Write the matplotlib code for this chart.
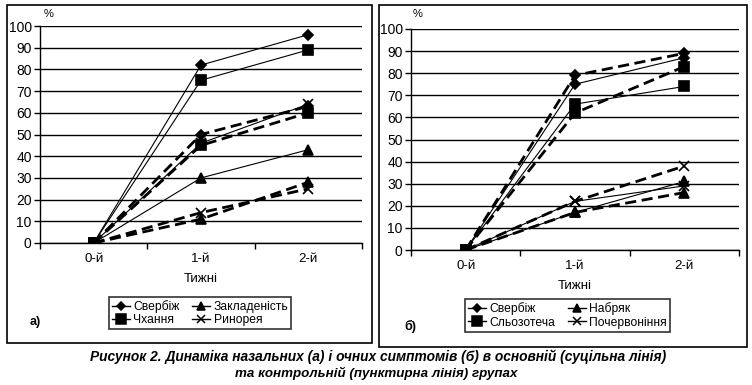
import matplotlib
matplotlib.use("Agg")
import matplotlib.pyplot as plt
from matplotlib.patches import Rectangle
from matplotlib.lines import Line2D

W, H = 752, 385

weeks = ["0-й", "1-й", "2-й"]

# Panel а) nasal symptoms
nasal_names = ["Свербіж", "Чхання", "Закладеність", "Ринорея"]
nasal_main = {
    "Свербіж": [0, 82, 96],
    "Чхання": [0, 75, 89],
    "Закладеність": [0, 30, 43],
    "Ринорея": [0, 46, 64],
}
nasal_ctrl = {
    "Свербіж": [0, 50, 63],
    "Чхання": [0, 45, 60],
    "Закладеність": [0, 11, 28],
    "Ринорея": [0, 14, 25],
}

# Panel б) ocular symptoms
eye_names = ["Свербіж", "Сльозотеча", "Набряк", "Почервоніння"]
eye_main = {
    "Свербіж": [0, 75, 87],
    "Сльозотеча": [0, 66, 74],
    "Набряк": [0, 17, 31],
    "Почервоніння": [0, 22, 29],
}
eye_ctrl = {
    "Свербіж": [0, 79, 89],
    "Сльозотеча": [0, 62, 83],
    "Набряк": [0, 17, 26],
    "Почервоніння": [0, 22, 38],
}

yticks = list(range(0, 101, 10))

FONT = ["Liberation Sans Narrow", "Liberation Sans", "DejaVu Sans"]
plt.rcParams["font.family"] = FONT

markers = ["D", "s", "^", "x"]
msizes = [5.5, 7.5, 6.5, 7]

fig = plt.figure(figsize=(W / 100, H / 100), dpi=100)


def fx(x):
    return x / W


def fy(y):
    return 1 - y / H


def box(x0, y0, x1, y1):
    fig.patches.append(Rectangle((fx(x0), fy(y1)), fx(x1 - x0), (y1 - y0) / H,
                                 transform=fig.transFigure, fill=False,
                                 edgecolor="black", linewidth=1.2))


def panel(rect, names, main, ctrl, label, lab_xy, pct_xy, leg_rect, xlab_pad):
    x0, ytop, x1, ybot = rect
    ax = fig.add_axes([fx(x0), fy(ybot), fx(x1 - x0), (ybot - ytop) / H])
    xs = list(range(len(weeks)))
    for i, n in enumerate(names):
        ax.plot(xs, ctrl[n], color="black", linestyle=(0, (4, 2)), linewidth=2.0,
                marker=markers[i], markersize=msizes[i], markeredgewidth=1.2,
                zorder=3)
        ax.plot(xs, main[n], color="black", linestyle="-", linewidth=0.8,
                marker=markers[i], markersize=msizes[i], markeredgewidth=1.2,
                zorder=3)
    ax.set_xlim(-0.5, 2.5)
    ax.set_ylim(0, 100)
    ax.set_yticks(yticks)
    ax.set_yticklabels([str(v) for v in yticks], fontsize=10)
    ax.set_xticks([-0.5, 0.5, 1.5, 2.5])
    ax.set_xticklabels([])
    ax.set_xticks(xs, minor=True)
    ax.set_xticklabels(weeks, minor=True, fontsize=9.5)
    ax.tick_params(axis="x", which="minor", length=0, pad=xlab_pad)
    ax.tick_params(axis="x", which="major", length=4, width=1, direction="out")
    ax.tick_params(axis="y", length=4, width=1, direction="out", pad=2)
    ax.grid(axis="y", color="black", linewidth=1.0)
    ax.set_axisbelow(True)
    for s in ["top", "right"]:
        ax.spines[s].set_visible(False)
    for s in ["left", "bottom"]:
        ax.spines[s].set_linewidth(1.0)
    ax.set_xlabel("Тижні", fontsize=9.5, labelpad=6)
    fig.text(fx(pct_xy[0]), fy(pct_xy[1]), "%", fontsize=8, ha="left", va="center")
    fig.text(fx(lab_xy[0]), fy(lab_xy[1]), label, fontsize=9, fontweight="bold",
             ha="left", va="center")
    handles = [Line2D([], [], color="black", linewidth=1.0, marker=markers[i],
                      markersize=msizes[i] - 1.0, markeredgewidth=1.1)
               for i in range(len(names))]
    lx0, ly0, lx1, ly1 = leg_rect
    leg = fig.legend(handles, names, ncol=2, loc="center",
                     bbox_to_anchor=(fx((lx0 + lx1) / 2), fy((ly0 + ly1) / 2)),
                     fontsize=8.7, frameon=True, fancybox=False, edgecolor="black",
                     handlelength=1.5, handletextpad=0.3, columnspacing=1.0,
                     borderpad=0.25, labelspacing=0.1, borderaxespad=0)
    leg.get_frame().set_linewidth(1.2)
    return ax


box(7, 5, 372, 343)
box(379, 5, 747, 347)

panel((40, 26, 362, 243), nasal_names, nasal_main, nasal_ctrl, "а)",
      (30, 322), (44, 14), (113, 297, 287, 329), 7)
panel((411, 29, 739, 250), eye_names, eye_main, eye_ctrl, "б)",
      (404, 326), (413, 14), (473, 302, 662, 329), 7)

cap_font = ["Liberation Sans Narrow", "Liberation Sans", "DejaVu Sans"]
fig.text(fx(378), fy(357),
         "Рисунок 2. Динаміка назальних (а) і очних симптомів (б) в основній (суцільна лінія)",
         ha="center", va="center", fontsize=9.9, fontweight="bold", style="italic",
         family=cap_font)
fig.text(fx(376), fy(373), "та контрольній (пунктирна лінія) групах",
         ha="center", va="center", fontsize=9.6, fontweight="bold", style="italic",
         family=cap_font)

fig.savefig("out.png", dpi=100)
